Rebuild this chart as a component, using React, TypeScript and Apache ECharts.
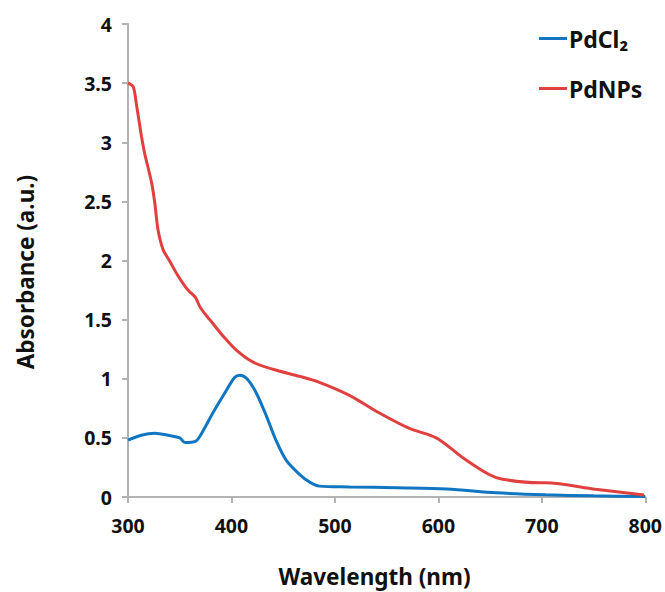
import React, { useEffect, useRef } from "react";
import * as echarts from "echarts";

const pdcl2Wavelength = [300, 312, 326, 340, 350, 355, 365, 370, 382, 395, 403, 408, 415, 424, 434, 443, 453, 466, 476, 485, 514, 560, 608, 656, 704, 750, 800];
const pdcl2Absorbance = [0.48, 0.52, 0.54, 0.52, 0.5, 0.46, 0.47, 0.52, 0.71, 0.9, 1.01, 1.03, 1.0, 0.88, 0.68, 0.48, 0.31, 0.19, 0.124, 0.092, 0.085, 0.078, 0.068, 0.035, 0.018, 0.01, 0.004];

const pdnpWavelength = [300, 305, 308, 313, 316, 323, 326, 329, 334, 340, 347, 357, 365, 370, 379, 392, 405, 421, 440, 466, 485, 514, 543, 572, 598, 624, 649, 662, 698, 704, 752, 799];
const pdnpAbsorbance = [3.5, 3.47, 3.33, 3.05, 2.91, 2.65, 2.48, 2.26, 2.09, 2.0, 1.89, 1.76, 1.69, 1.6, 1.5, 1.36, 1.24, 1.14, 1.08, 1.02, 0.97, 0.86, 0.71, 0.58, 0.5, 0.33, 0.19, 0.15, 0.12, 0.12, 0.065, 0.017];

const xTicks = { min: 300, max: 800, interval: 100 };
const yTicks = { min: 0, max: 4, interval: 0.5 };

const xTitle = "Wavelength (nm)";
const yTitle = "Absorbance (a.u.)";

const FONT = "'Noto Sans', 'Open Sans', sans-serif";

export default function App() {
  const ref = useRef<HTMLDivElement>(null);
  useEffect(() => {
    if (!ref.current) return;
    const chart = echarts.init(ref.current, null, { renderer: "svg" });
    const pair = (xs: number[], ys: number[]) => xs.map((x, i) => [x, ys[i]]);
    chart.setOption({
      animation: false,
      backgroundColor: "#ffffff",
      textStyle: { fontFamily: FONT },
      grid: { left: 128, right: 19, top: 24, bottom: 95, containLabel: false },
      legend: {
        orient: "vertical",
        left: 534,
        top: 22,
        itemGap: 27,
        itemWidth: 28,
        itemHeight: 3,
        icon: "rect",
        textStyle: { fontFamily: FONT, fontSize: 23, fontWeight: "bold", color: "#111", padding: [0, 0, 0, -3] },
        data: ["PdCl₂", "PdNPs"],
      },
      graphic: [
        {
          type: "text",
          x: 374.5,
          y: 576,
          style: {
            text: xTitle,
            align: "center",
            verticalAlign: "middle",
            fontFamily: FONT,
            fontSize: 22.5,
            fontWeight: "bold",
            fill: "#111",
          },
        },
        {
          type: "text",
          x: 25,
          y: 272,
          rotation: Math.PI / 2,
          style: {
            text: yTitle,
            align: "center",
            verticalAlign: "middle",
            fontFamily: FONT,
            fontSize: 22.5,
            fontWeight: "bold",
            fill: "#111",
          },
        },
      ],
      xAxis: {
        type: "value",
        min: xTicks.min,
        max: xTicks.max,
        interval: xTicks.interval,
        axisLine: { lineStyle: { color: "#b3b3b3", width: 2 } },
        axisTick: { show: true, length: 6, lineStyle: { color: "#b3b3b3", width: 2 } },
        axisLabel: { fontFamily: FONT, fontSize: 19.5, fontWeight: "bold", color: "#111", margin: 18 },
        splitLine: { show: false },
      },
      yAxis: {
        type: "value",
        min: yTicks.min,
        max: yTicks.max,
        interval: yTicks.interval,
        axisLine: { show: true, lineStyle: { color: "#b3b3b3", width: 2 } },
        axisTick: { show: true, length: 6, lineStyle: { color: "#b3b3b3", width: 2 } },
        axisLabel: { fontFamily: FONT, fontSize: 19.5, fontWeight: "bold", color: "#111", margin: 16 },
        splitLine: { show: false },
      },
      series: [
        {
          name: "PdCl₂",
          type: "line",
          data: pair(pdcl2Wavelength, pdcl2Absorbance),
          smooth: 0.3,
          showSymbol: false,
          symbol: "none",
          lineStyle: { color: "#1176c2", width: 3 },
          itemStyle: { color: "#1176c2" },
        },
        {
          name: "PdNPs",
          type: "line",
          data: pair(pdnpWavelength, pdnpAbsorbance),
          smooth: 0.3,
          showSymbol: false,
          symbol: "none",
          lineStyle: { color: "#e0403e", width: 3 },
          itemStyle: { color: "#e0403e" },
        },
      ],
    });
    return () => chart.dispose();
  }, []);
  return <div ref={ref} style={{ width: 665, height: 592, position: "absolute", left: 0, top: 0 }} />;
}
